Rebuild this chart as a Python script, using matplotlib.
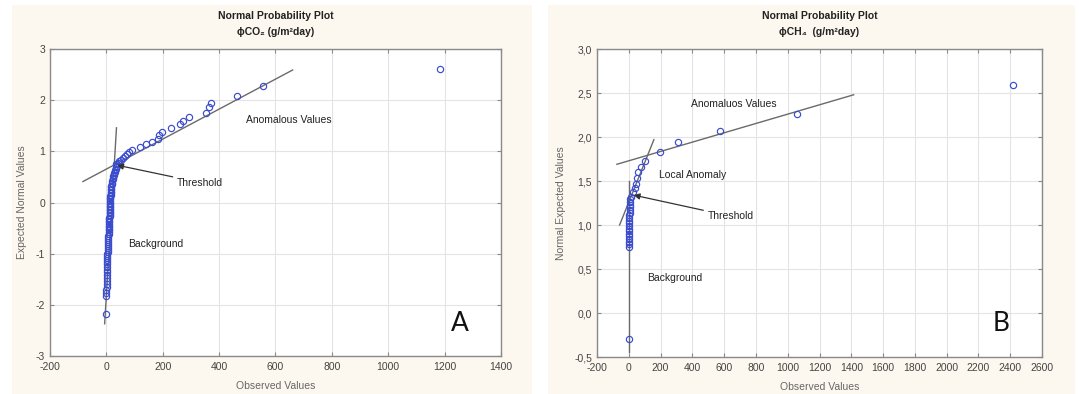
import matplotlib
matplotlib.use("Agg")
import matplotlib.pyplot as plt
from matplotlib.patches import Rectangle

# ---------------- data: panel A (CO2) ----------------
a_bg_x = [0, 0, 0, 0.5, 1, 1, 1, 1.5, 1.5, 2, 2, 2, 2.5, 3, 3, 3.5, 4, 4, 4.5, 5,
          5, 5.5, 6, 6, 6.5, 7, 7.5, 8, 8, 8.5, 9, 9, 9.5, 10, 10, 10.5, 11, 11, 11.5, 11.5,
          12, 12, 12, 12.5, 12.5, 13, 13, 13, 13.5, 14, 14, 14.5, 15, 15, 15.5, 16, 17, 17.5,
          18, 19, 20, 21, 22, 23, 24.5, 26, 27.5, 29, 31, 33, 35, 38]
a_bg_y = [-2.17, -1.83, -1.77, -1.71, -1.65, -1.59, -1.53, -1.47, -1.41, -1.36, -1.31, -1.26,
          -1.21, -1.17, -1.13, -1.09, -1.05, -1.01, -0.97, -0.93, -0.89, -0.85, -0.81, -0.77,
          -0.73, -0.69, -0.65, -0.61, -0.57, -0.54, -0.51, -0.48, -0.45, -0.42, -0.39, -0.36,
          -0.33, -0.30, -0.27, -0.24, -0.21, -0.18, -0.15, -0.12, -0.09, -0.06, -0.03, 0.00,
          0.03, 0.06, 0.09, 0.12, 0.15, 0.18, 0.21, 0.24, 0.27, 0.30, 0.33, 0.36, 0.39, 0.42,
          0.45, 0.48, 0.51, 0.54, 0.57, 0.60, 0.63, 0.66, 0.69, 0.72]
a_an_x = [36, 40, 45, 52, 58, 66, 74, 82, 91, 120, 142, 162, 182, 188, 199, 230, 262, 271,
          294, 352, 363, 371, 463, 555, 1182]
a_an_y = [0.75, 0.78, 0.81, 0.84, 0.87, 0.90, 0.94, 0.98, 1.03, 1.09, 1.15, 1.18, 1.24, 1.32,
          1.38, 1.46, 1.53, 1.60, 1.68, 1.75, 1.86, 1.94, 2.09, 2.27, 2.60]
a_fit_anom_x = [-83, 661]
a_fit_anom_y = [0.41, 2.59]
a_fit_bg_x = [36, -6]
a_fit_bg_y = [1.46, -2.37]
a_xticks = [-200, 0, 200, 400, 600, 800, 1000, 1200, 1400]
a_xticklabels = ["-200", "0", "200", "400", "600", "800", "1000", "1200", "1400"]
a_yticks = [-3, -2, -1, 0, 1, 2, 3]
a_yticklabels = ["-3", "-2", "-1", "0", "1", "2", "3"]

# ---------------- data: panel B (CH4) ----------------
b_bg_x = [0, 0, 0, 0, 0.5, 1, 1, 1.5, 2, 2, 2.5, 3, 3.5, 4, 4.5, 5, 6, 7, 8, 9, 12]
b_bg_y = [-0.29, 0.75, 0.78, 0.81, 0.84, 0.87, 0.90, 0.93, 0.96, 0.99, 1.02, 1.05, 1.08,
          1.11, 1.14, 1.17, 1.20, 1.23, 1.26, 1.29, 1.32]
b_an_x = [25, 40, 45, 52, 60, 78, 100, 195, 310, 575, 1058, 2420]
b_an_y = [1.37, 1.42, 1.47, 1.53, 1.60, 1.66, 1.73, 1.83, 1.94, 2.07, 2.26, 2.59]
b_fit_anom_x = [-75, 1415]
b_fit_anom_y = [1.69, 2.48]
b_fit_local_x = [-58, 158]
b_fit_local_y = [1.00, 1.97]
b_fit_bg_x = [0, 0]
b_fit_bg_y = [-0.44, 1.50]
b_xticks = list(range(-200, 2601, 200))
b_xticklabels = ["-200", "0", "200", "400", "600", "800", "1000", "1200", "1400", "1600",
                 "1800", "2000", "2200", "2400", "2600"]
b_yticks = [-0.5, 0.0, 0.5, 1.0, 1.5, 2.0, 2.5, 3.0]
b_yticklabels = ["-0,5", "0,0", "0,5", "1,0", "1,5", "2,0", "2,5", "3,0"]

# ---------------- style ----------------
FONT = ["Liberation Sans", "DejaVu Sans"]
plt.rcParams["font.family"] = FONT
CREAM = "#fdf8ef"
PT_COLOR = "#3a4ccf"
LINE_COLOR = "#6a6a6a"

fig = plt.figure(figsize=(10.79, 3.94), dpi=100)
fig.patch.set_facecolor("white")
fig.patches.append(Rectangle((0.0111, 0.0), 0.482, 0.987, transform=fig.transFigure,
                             facecolor=CREAM, edgecolor="none", zorder=-10))
fig.patches.append(Rectangle((0.508, 0.0), 0.4885, 0.987, transform=fig.transFigure,
                             facecolor=CREAM, edgecolor="none", zorder=-10))

axA = fig.add_axes([0.0463, 0.0964, 0.418, 0.7792])
axB = fig.add_axes([0.5533, 0.0939, 0.4124, 0.7817])


def style(ax, xlim, ylim, xt, xtl, yt, ytl):
    ax.set_facecolor("white")
    ax.set_xlim(*xlim)
    ax.set_ylim(*ylim)
    ax.set_xticks(xt)
    ax.set_xticklabels(xtl)
    ax.set_yticks(yt)
    ax.set_yticklabels(ytl)
    ax.grid(True, color="#e4e4e4", lw=0.8)
    ax.set_axisbelow(True)
    for s in ax.spines.values():
        s.set_color("#8a8a8a")
        s.set_linewidth(1.0)
    ax.tick_params(direction="in", length=3, width=0.8, color="#8a8a8a",
                   top=True, right=True, labelsize=7.5, labelcolor="#444444")
    ax.tick_params(axis="x", pad=4)
    ax.tick_params(axis="y", pad=3.5)
    ax.set_xlabel("Observed Values", fontsize=7.5, color="#666666", labelpad=7)


def pts(ax, x, y):
    ax.plot(x, y, linestyle="none", marker="o", markersize=4.5, markerfacecolor="none",
            markeredgecolor=PT_COLOR, markeredgewidth=0.85, zorder=3)


# ---- Panel A ----
style(axA, (-200, 1400), (-3, 3), a_xticks, a_xticklabels, a_yticks, a_yticklabels)
axA.set_ylabel("Expected Normal Values", fontsize=7.5, color="#666666", labelpad=6)
axA.plot(a_fit_anom_x, a_fit_anom_y, color=LINE_COLOR, lw=1.0, zorder=2)
axA.plot(a_fit_bg_x, a_fit_bg_y, color=LINE_COLOR, lw=1.0, zorder=2)
pts(axA, a_bg_x, a_bg_y)
pts(axA, a_an_x, a_an_y)
axA.annotate("Threshold", xy=(38, 0.73), xytext=(250, 0.39), fontsize=7.5, va="center",
             ha="left", color="#222222",
             arrowprops=dict(arrowstyle="-|>", color="#333333", lw=0.9, mutation_scale=9,
                             shrinkA=1, shrinkB=0), zorder=5)
axA.text(496, 1.61, "Anomalous Values", fontsize=7.5, va="center", ha="left", color="#222222")
axA.text(79, -0.82, "Background", fontsize=7.5, va="center", ha="left", color="#222222")
axA.text(1253, -2.36, "A", fontsize=19, va="center", ha="center", color="#111111",
         family=["Lato", "DejaVu Sans"])
axA.set_title("Normal Probability Plot\nϕCO₂ (g/m²day)", fontsize=7.5, fontweight="bold",
              color="#222222", pad=10, linespacing=1.75)

# ---- Panel B ----
style(axB, (-200, 2600), (-0.5, 3.0), b_xticks, b_xticklabels, b_yticks, b_yticklabels)
axB.set_ylabel("Normal Expected Values", fontsize=7.5, color="#666666", labelpad=6)
axB.plot(b_fit_anom_x, b_fit_anom_y, color=LINE_COLOR, lw=1.0, zorder=2)
axB.plot(b_fit_local_x, b_fit_local_y, color=LINE_COLOR, lw=1.0, zorder=2)
axB.plot(b_fit_bg_x, b_fit_bg_y, color=LINE_COLOR, lw=1.0, zorder=2)
pts(axB, b_bg_x, b_bg_y)
pts(axB, b_an_x, b_an_y)
axB.annotate("Threshold", xy=(30, 1.34), xytext=(495, 1.10), fontsize=7.5, va="center",
             ha="left", color="#222222",
             arrowprops=dict(arrowstyle="-|>", color="#333333", lw=0.9, mutation_scale=9,
                             shrinkA=1, shrinkB=0), zorder=5)
axB.text(394, 2.38, "Anomaluos Values", fontsize=7.5, va="center", ha="left", color="#222222")
axB.text(191, 1.57, "Local Anomaly", fontsize=7.5, va="center", ha="left", color="#222222")
axB.text(113, 0.40, "Background", fontsize=7.5, va="center", ha="left", color="#222222")
axB.text(2340, -0.12, "B", fontsize=19, va="center", ha="center", color="#111111",
         family=["Lato", "DejaVu Sans"])
axB.set_title("Normal Probability Plot\nϕCH₄  (g/m²day)", fontsize=7.5, fontweight="bold",
              color="#222222", pad=10, linespacing=1.75)

fig.savefig("out.png", dpi=100, facecolor=fig.get_facecolor())
